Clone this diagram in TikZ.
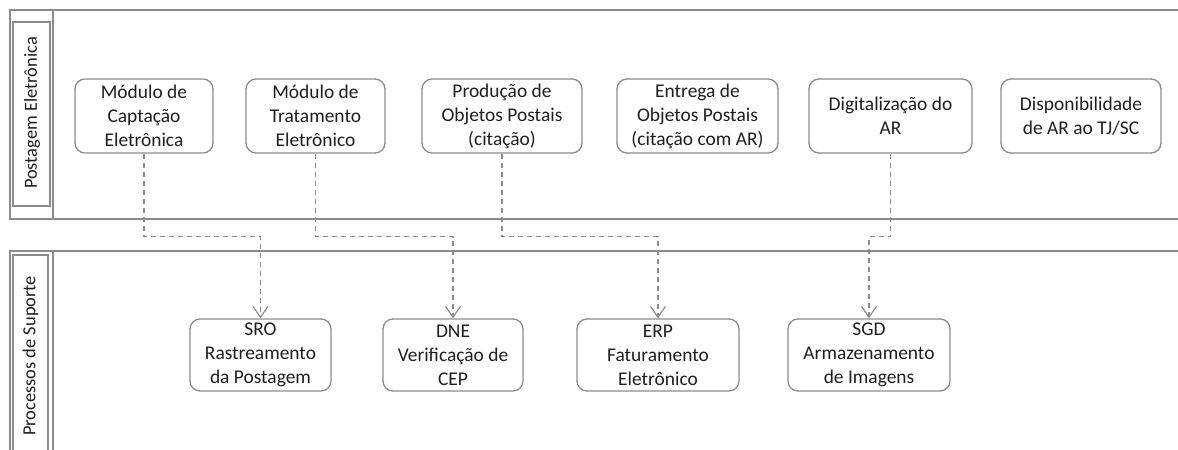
\documentclass[tikz,border=0pt]{standalone}
\usepackage{fontspec}
\setmainfont{Carlito}
\usetikzlibrary{arrows.meta}
\definecolor{edge}{HTML}{8C8C8C}
\definecolor{txt}{HTML}{1E1E1E}
\begin{document}
\begin{tikzpicture}[x=1bp,y=-1bp,
 proc/.style={draw=edge, line width=1.3bp, rounded corners=10bp, align=center, inner sep=0pt, text=txt, font=\fontsize{19.5}{24}\selectfont},
 lane/.style={draw=edge, line width=1.8bp},
 lbox/.style={draw=edge, line width=1.3bp},
 flow/.style={draw=edge, line width=1.2bp, dash pattern=on 5bp off 4bp, -{Straight Barb[length=11bp,width=15bp]}},
 lanelabel/.style={rotate=90, text=txt, inner sep=0pt, font=\fontsize{18.5}{22}\selectfont}
]
\useasboundingbox (0,0) rectangle (1178,450);
% top pool
\draw[lane] (1182,10) -- (10,10) -- (10,219) -- (1182,219);
\draw[lane] (53,10) -- (53,219);
\draw[lbox] (13,22) rectangle (50,206);
\node[lanelabel] (l1) at (32,113) {Postagem Eletrônica};
% bottom pool
\draw[lane] (1182,251) -- (10,251) -- (10,460);
\draw[lane] (53,251) -- (53,460);
\draw[lbox] (13,255) rectangle (48,460);
\node[lanelabel] (l2) at (30.5,356) {Processos de Suporte};
% top boxes
\node[proc, minimum width=138bp, minimum height=74bp] (a1) at (144,116) {Módulo de\\Captação\\Eletrônica};
\node[proc, minimum width=139bp, minimum height=74bp] (a2) at (315.5,116) {Módulo de\\Tratamento\\Eletrônico};
\node[proc, minimum width=160bp, minimum height=74bp] (a3) at (502,116) {Produção de\\Objetos Postais\\(citação)};
\node[proc, minimum width=161bp, minimum height=74bp] (a4) at (697.5,116) {Entrega de\\Objetos Postais\\(citação com AR)};
\node[proc, minimum width=163bp, minimum height=74bp] (a5) at (890.5,116) {Digitalização do\\AR};
\node[proc, minimum width=160bp, minimum height=74bp] (a6) at (1081,116) {Disponibilidade\\de AR ao TJ/SC};
% bottom boxes
\node[proc, minimum width=141bp, minimum height=72bp] (b1) at (260.5,355) {SRO\\Rastreamento\\da Postagem};
\node[proc, minimum width=140bp, minimum height=72bp] (b2) at (453,355) {DNE\\Verificação de\\CEP};
\node[proc, minimum width=162bp, minimum height=72bp] (b3) at (658,355) {ERP\\Faturamento\\Eletrônico};
\node[proc, minimum width=162bp, minimum height=72bp] (b4) at (869,355) {SGD\\Armazenamento\\de Imagens};
% connectors
\draw[flow] (a1.south) -- ++(0,83) -| (b1.north);
\draw[flow] (a2.south) -- ++(0,83) -| (b2.north);
\draw[flow] (a3.south) -- ++(0,83) -| (b3.north);
\draw[flow] (a5.south) -- ++(0,83) -| (b4.north);
\end{tikzpicture}
\end{document}
